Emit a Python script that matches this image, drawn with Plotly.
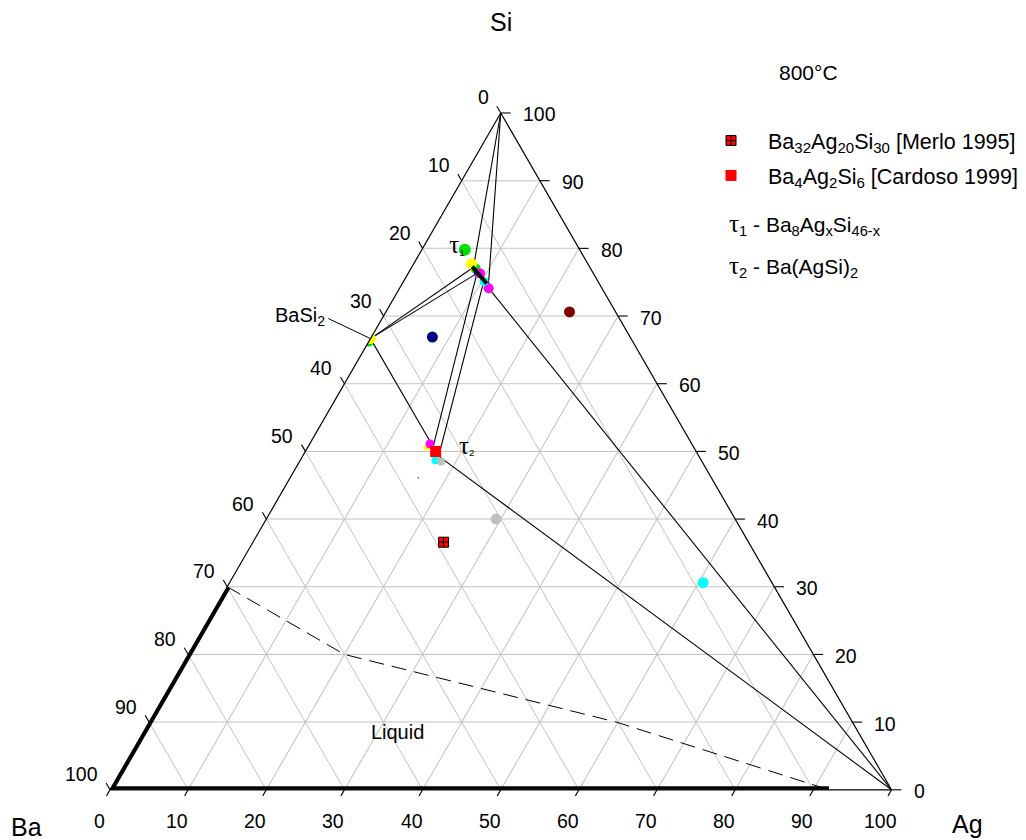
import plotly.graph_objects as go

FONT = "Liberation Sans, Arial, sans-serif"
GRID_COLOR = "#c2c2c2"

# ---- triangle placement on the page (pixels) ----
PAGE_W, PAGE_H = 1026, 840
X0, Y0, SIDE = 110.0, 113.0, 781.5
HEIGHT = SIDE * 3 ** 0.5 / 2
CX = (X0 + SIDE / 2) / PAGE_W
CY = 1 - (Y0 + HEIGHT / 2) / PAGE_H
HALF_H = HEIGHT / PAGE_H / 2
DOMAIN_X = [CX - 0.4, CX + 0.4]
DOMAIN_Y = [CY - HALF_H, CY + HALF_H]

TICKS = list(range(0, 101, 10))

# ---- compositions (Ba, Ag, Si); plotly normalises each to sum = 100 ----
SI_CORNER = (0, 0, 100)
AG_CORNER = (0, 100, 0)
BASI2 = (1, 0, 2)
TAU1_A = (14.9, 7.9, 77.2)
TAU1_C = (14.9, 8.8, 76.3)
TAU1_D = (14.7, 10.3, 75.0)
TAU1_B = (14.5, 11.3, 74.2)
TAU2_A = (33.3, 16.0, 50.7)
TAU2_B = (33.3, 17.4, 49.3)

TIE_LINES = [
    (SI_CORNER, TAU1_A), (SI_CORNER, TAU1_B),
    (BASI2, TAU1_A), (BASI2, TAU1_C), (BASI2, TAU2_A),
    (TAU1_C, TAU2_A), (TAU1_D, TAU2_B),
    (TAU1_B, AG_CORNER), (TAU2_B, AG_CORNER),
]
TAU1_RANGE = [(15.0, 7.7, 77.3), (14.4, 10.8, 74.8)]

LIQUID_EDGE_BASI = [(100, 0, 0), (70, 0, 30)]
LIQUID_EDGE_BAAG = [(100, 0, 0), (8, 92, 0)]
LIQUID_BOUNDARY = [(70, 0, 30), (60, 20, 20), (30.2, 59.8, 10), (8, 92, 0)]

POINTS_GREEN = [(14.7, 5.5, 79.8), (14.7, 8.3, 77.0), (33.8, 0.1, 66.1)]
SIZES_GREEN = [12, 10, 8]
POINTS_YELLOW = [(14.9, 7.4, 77.7), (33.33, 0.0, 66.67), (34.2, 15.2, 50.6)]
SIZES_YELLOW = [11, 11, 6]
POINTS_BLUE = [(14.9, 8.8, 76.3)]
SIZES_BLUE = [6]
POINTS_MAGENTA = [(14.5, 9.2, 76.3), (14.5, 11.4, 74.1), (33.5, 15.4, 51.1)]
SIZES_MAGENTA = [10, 10, 9]
POINTS_CYAN = [(14.6, 10.3, 75.1), (34.0, 17.3, 48.7), (8.8, 60.6, 30.6)]
SIZES_CYAN = [9, 8, 11]
POINTS_NAVY = [(25.3, 7.8, 66.9)]
POINTS_MAROON = [(5.9, 23.5, 70.6)]
POINTS_GRAY = [(33.4, 18.1, 48.5), (30.6, 29.4, 40.0)]
SIZES_GRAY = [8, 11]
POINTS_DOT = [(37.5, 16.4, 46.1)]

MERLO = (32, 20, 30)      # Ba32Ag20Si30
CARDOSO = (4, 2, 6)       # Ba4Ag2Si6

# label anchors
TAU1_LABEL_AT = (14.7, 5.5, 79.8)
TAU2_LABEL_AT = (30.25, 19.55, 50.2)
BASI2_LABEL_AT = (37.25, -7.2, 69.95)
BASI2_LEADER_FROM = (37.26, -6.9, 69.64)
LIQUID_LABEL_AT = (59.1, 32.7, 8.2)


def split(points):
    ba = [p[0] if p else None for p in points]
    ag = [p[1] if p else None for p in points]
    si = [p[2] if p else None for p in points]
    return si, ba, ag


def tern(points, **kw):
    si, ba, ag = split(points)
    kw.setdefault("hoverinfo", "skip")
    kw.setdefault("showlegend", False)
    return go.Scatterternary(a=si, b=ba, c=ag, **kw)


def segments(pairs):
    pts = []
    for p, q in pairs:
        pts += [p, q, None]
    return pts


# points on the extension of a grid line just outside each edge
def left_pt(v, d):
    return (v, -d, 100 - v + d)


def bottom_pt(v, d):
    return (100 - v + d, v, -d)


def right_pt(v, d):
    return (-d, 100 - v + d, v)


def to_paper(comp):
    """Composition -> paper coordinates of the ternary subplot placed above."""
    ba, ag, si = comp
    s = ba + ag + si
    ag, si = ag / s, si / s
    x = X0 + (ag + si / 2) * SIDE
    y = Y0 + HEIGHT * (1 - si)
    return x / PAGE_W, 1 - y / PAGE_H


fig = go.Figure()

# liquid field: boundary on the edges (thick) and the dashed limit
for edge in (LIQUID_EDGE_BASI, LIQUID_EDGE_BAAG):
    fig.add_trace(tern(edge, mode="lines", line=dict(color="black", width=7)))
fig.add_trace(tern(LIQUID_BOUNDARY, mode="lines",
                   line=dict(color="black", width=1, dash="15px,8px")))

# tie lines
fig.add_trace(tern(segments(TIE_LINES), mode="lines",
                   line=dict(color="black", width=1.1)))


def dots(points, color, sizes, symbol="circle"):
    return tern(points, mode="markers",
                marker=dict(color=color, size=sizes, symbol=symbol, opacity=1,
                            line=dict(width=0)))


fig.add_trace(dots(POINTS_GREEN, "#00e000", SIZES_GREEN))
fig.add_trace(dots(POINTS_YELLOW, "#ffff00", SIZES_YELLOW))
fig.add_trace(dots(POINTS_BLUE, "#0000ff", SIZES_BLUE))
fig.add_trace(dots(POINTS_MAGENTA, "#ff00ff", SIZES_MAGENTA))
fig.add_trace(dots(POINTS_CYAN, "#00ffff", SIZES_CYAN))
fig.add_trace(dots(POINTS_NAVY, "#000080", [11]))
fig.add_trace(dots(POINTS_MAROON, "#800000", [11]))
fig.add_trace(dots(POINTS_GRAY, "#c0c0c0", SIZES_GRAY))
fig.add_trace(dots(POINTS_DOT, "#808080", [2]))

# homogeneity range of tau1
fig.add_trace(tern(TAU1_RANGE, mode="lines", line=dict(color="black", width=4)))

# literature compositions (legend entries)
fig.add_trace(tern([MERLO], mode="markers", showlegend=True, legendgroup="m",
                   name="Ba<sub>32</sub>Ag<sub>20</sub>Si<sub>30</sub> [Merlo 1995]",
                   marker=dict(symbol="square-cross", size=10, color="#ff0000", opacity=1,
                               line=dict(color="black", width=1))))
fig.add_trace(tern([CARDOSO], mode="markers", showlegend=True, legendgroup="c",
                   name="Ba<sub>4</sub>Ag<sub>2</sub>Si<sub>6</sub> [Cardoso 1999]",
                   marker=dict(symbol="square", size=11, color="#ff0000", opacity=1,
                               line=dict(width=0))))


def label(points, texts, position, size):
    return tern(points, mode="text", text=texts, textposition=position,
                textfont=dict(family=FONT, size=size, color="black"))


TAU = '<span style="font-family:Liberation Serif;font-size:25px">τ</span>'
fig.add_trace(label([TAU1_LABEL_AT], [TAU + "<sub>1</sub>"], "middle left", 14))
fig.add_trace(label([TAU2_LABEL_AT], [TAU + "<sub>2</sub>"], "middle right", 14))
fig.add_trace(label([LIQUID_LABEL_AT], ["Liquid"], "middle center", 20))

axis_style = dict(tick0=0, dtick=10, ticks="", showticklabels=False, showgrid=True,
                  gridcolor=GRID_COLOR, gridwidth=1.3, showline=True,
                  linecolor="black", linewidth=1.2, title=dict(text=""))


def px(x):
    return x / PAGE_W


def py(y):
    return 1 - y / PAGE_H


def note(text, x, y, size, xanchor="center"):
    return dict(text=text, x=px(x), y=py(y), xref="paper", yref="paper", showarrow=False,
                xanchor=xanchor, yanchor="middle", font=dict(family=FONT, size=size, color="black"))


def tick_label(comp, text, xanchor, xshift, yshift):
    x, y = to_paper(comp)
    return dict(text=text, x=x, y=y, xref="paper", yref="paper", showarrow=False,
                xanchor=xanchor, yanchor="middle", xshift=xshift, yshift=yshift,
                font=dict(family=FONT, size=19.5, color="black"))


def seg_shape(p, q, width=1.1):
    (x1, y1), (x2, y2) = to_paper(p), to_paper(q)
    return dict(type="line", xref="paper", yref="paper", x0=x1, y0=y1, x1=x2, y1=y2,
                line=dict(color="black", width=width))


annotations = [
    note("Si", 501, 22, 25),
    note("Ba", 26, 827, 25),
    note("Ag", 967.5, 824, 25),
    note("800°C", 808, 72.5, 21),
    note('<span style="font-family:Liberation Serif;font-size:25px">τ</span>'
         "<sub>1</sub> - Ba<sub>8</sub>Ag<sub>x</sub>Si<sub>46-x</sub>", 727, 225, 21, "left"),
    note('<span style="font-family:Liberation Serif;font-size:25px">τ</span>'
         "<sub>2</sub> - Ba(AgSi)<sub>2</sub>", 727, 266, 21, "left"),
]
# Ba along the left edge, Ag along the base, Si along the right edge
annotations += [tick_label(left_pt(v, 0), str(v), "right", -10, 15.5) for v in TICKS]
annotations += [tick_label(bottom_pt(v, 0), str(v), "center", -11, -31) for v in TICKS]
annotations += [tick_label(right_pt(v, 0), str(v), "left", 20, -1.5) for v in TICKS]

# BaSi2 label with its leader line
bx, by = to_paper(BASI2_LABEL_AT)
annotations.append(dict(text="BaSi<sub>2</sub>", x=bx, y=by, xref="paper", yref="paper",
                        showarrow=False, xanchor="right", yanchor="middle",
                        font=dict(family=FONT, size=20, color="black")))

shapes = [seg_shape(left_pt(v, 0), left_pt(v, 1.0)) for v in TICKS]
shapes += [seg_shape(bottom_pt(v, 0), bottom_pt(v, 0.9)) for v in TICKS]
shapes += [seg_shape(right_pt(v, 0), right_pt(v, 1.25)) for v in TICKS]
shapes.append(seg_shape(BASI2_LEADER_FROM, BASI2, width=1))

fig.update_layout(
    width=PAGE_W, height=PAGE_H,
    margin=dict(l=0, r=0, t=0, b=0, pad=0),
    paper_bgcolor="white",
    hovermode=False,
    ternary=dict(
        sum=100,
        domain=dict(x=DOMAIN_X, y=DOMAIN_Y),
        bgcolor="white",
        aaxis=axis_style, baxis=axis_style, caxis=axis_style,
    ),
    legend=dict(x=px(694), y=py(120), xanchor="left", yanchor="top",
                font=dict(family=FONT, size=21.5, color="black"),
                itemwidth=64, tracegroupgap=4, bgcolor="rgba(0,0,0,0)", borderwidth=0),
    annotations=annotations,
    shapes=shapes,
)

fig.write_html("out.html")
